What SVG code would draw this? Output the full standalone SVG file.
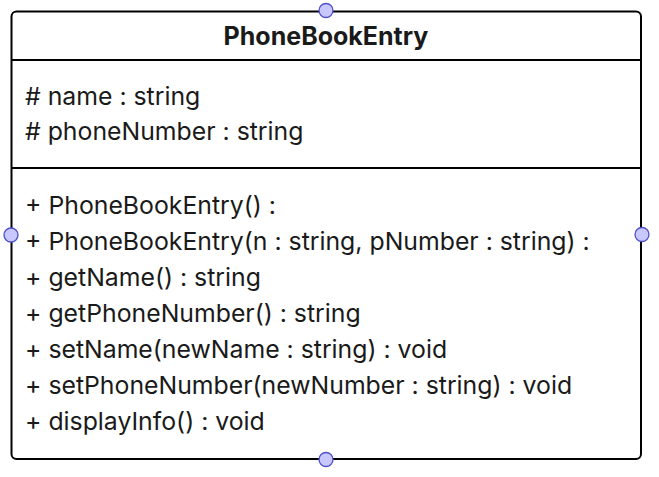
<svg xmlns="http://www.w3.org/2000/svg" width="659" height="477" viewBox="0 0 659 477">
<style>
.box{fill:#fff;stroke:#000;stroke-width:2}
.div{stroke:#000;stroke-width:2}
.t{font-family:Inter,"Liberation Sans",sans-serif;font-size:24.8px;fill:#1a1a1a}
.h{font-weight:bold;text-anchor:middle;font-size:25px}
.port{fill:#c8c8ff;stroke:#5050c8;stroke-width:1.3}
</style>
<rect width="659" height="477" fill="#fff"/>
<g id="PhoneBookEntry">
<rect class="box" x="11.5" y="11.5" width="629.5" height="447.5" rx="5"/>
<line class="div" x1="11.5" y1="60" x2="641" y2="60"/>
<line class="div" x1="11.5" y1="168" x2="641" y2="168"/>
<text class="t h" x="326" y="44.5">PhoneBookEntry</text>
<text class="t" x="25" y="105"># name : string</text>
<text class="t" x="25" y="140"># phoneNumber : string</text>
<text class="t" x="25" y="213.5">+ PhoneBookEntry() :</text>
<text class="t" x="25" y="249.5">+ PhoneBookEntry(n : string, pNumber : string) :</text>
<text class="t" x="25" y="285.5">+ getName() : string</text>
<text class="t" x="25" y="321.5">+ getPhoneNumber() : string</text>
<text class="t" x="25" y="357.5">+ setName(newName : string) : void</text>
<text class="t" x="25" y="393.5">+ setPhoneNumber(newNumber : string) : void</text>
<text class="t" x="25" y="429.5">+ displayInfo() : void</text>
</g>
<g id="connectors">
<circle class="port" cx="326" cy="10.5" r="7"/>
<circle class="port" cx="11" cy="235" r="7"/>
<circle class="port" cx="642" cy="234.5" r="7"/>
<circle class="port" cx="326" cy="459.5" r="7"/>
</g>
</svg>
